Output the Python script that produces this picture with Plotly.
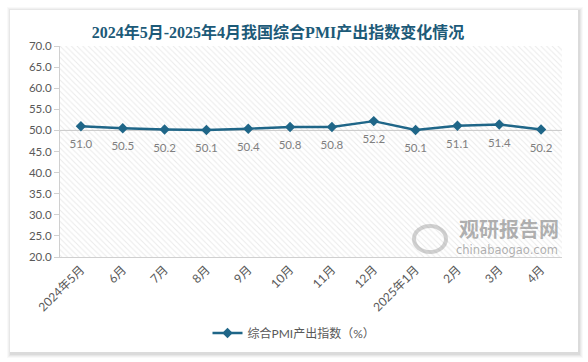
import plotly.graph_objects as go

categories = ["2024年5月", "6月", "7月", "8月", "9月", "10月", "11月", "12月",
              "2025年1月", "2月", "3月", "4月"]
pmi_values = [51.0, 50.5, 50.2, 50.1, 50.4, 50.8, 50.8, 52.2, 50.1, 51.1, 51.4, 50.2]
y_ticks = [20, 25, 30, 35, 40, 45, 50, 55, 60, 65, 70]
series_name = "综合PMI产出指数（%）"
title_text = "2024年5月-2025年4月我国综合PMI产出指数变化情况"

W, H = 588, 362
ML, MR, MT, MB = 60, 26, 46, 105
PW, PH = W - ML - MR, H - MT - MB

def px_x(px):
    return (px - ML) / PW

def px_y(py):
    return (H - MB - py) / PH

n = len(categories)
xr = [-0.5, n - 0.5]
yr = [min(y_ticks), max(y_ticks)]
xs = list(range(n))

line_color = "#1f6688"
font_ui = "Lato, 'Noto Sans CJK SC', sans-serif"

fig = go.Figure()

fig.add_trace(go.Scatter(
    x=[xr[0], xr[1], xr[1], xr[0], xr[0]],
    y=[yr[0], yr[0], yr[1], yr[1], yr[0]],
    mode="lines", line=dict(width=0), fill="toself",
    fillcolor="white",
    fillpattern=dict(shape="\\", fgcolor="#d6d6d6", bgcolor="white", size=4, solidity=0.25),
    hoverinfo="skip", showlegend=False,
))
fig.add_trace(go.Scatter(
    x=xr, y=[50, 50], mode="lines", line=dict(color="#c8c8c8", width=1),
    hoverinfo="skip", showlegend=False,
))
fig.add_trace(go.Scatter(
    x=xs, y=pmi_values, mode="lines+markers", name=series_name,
    line=dict(color=line_color, width=2.4),
    marker=dict(symbol="diamond", size=8, color=line_color),
))
# data labels, pushed a little further below the points
fig.add_trace(go.Scatter(
    x=xs, y=pmi_values, mode="markers+text", showlegend=False, hoverinfo="skip",
    marker=dict(size=20, opacity=0),
    text=[f"{v:.1f}" for v in pmi_values], textposition="bottom center",
    textfont=dict(family=font_ui, size=11.5, color="#7f7f7f"),
))

shapes = []
for i, a in enumerate([0.025, 0.03, 0.04, 0.05]):
    d = 4 - i
    shapes.append(dict(type="rect", xref="paper", yref="paper",
                       x0=px_x(10 - d + 1), x1=px_x(578 + d + 1),
                       y0=px_y(352 + d + 2), y1=px_y(10 - d + 1),
                       fillcolor=f"rgba(0,0,0,{a})", line=dict(width=0), layer="below"))
shapes.append(dict(type="rect", xref="paper", yref="paper",
                   x0=px_x(10), x1=px_x(578), y0=px_y(352), y1=px_y(10),
                   fillcolor="white", line=dict(width=0), layer="below"))

annotations = [
    dict(text="<b>观研报告网</b>", x=px_x(509), y=px_y(228), xref="paper", yref="paper",
         showarrow=False, font=dict(family="'Noto Sans CJK SC'", size=20, color="rgba(110,110,110,0.55)"),
         xanchor="center", yanchor="middle"),
    dict(text="chinabaogao.com", x=px_x(507), y=px_y(250), xref="paper", yref="paper",
         showarrow=False, font=dict(family="'DejaVu Sans'", size=11.5, color="rgba(110,110,110,0.55)"),
         xanchor="center", yanchor="middle"),
]
shapes.append(dict(type="circle", xref="paper", yref="paper",
                   x0=px_x(414), x1=px_x(446), y0=px_y(252), y1=px_y(226),
                   line=dict(color="rgba(140,140,140,0.4)", width=4), layer="above"))

fig.update_layout(
    width=W, height=H,
    margin=dict(l=ML, r=MR, t=MT, b=MB),
    paper_bgcolor="white", plot_bgcolor="white",
    title=dict(text=f"<b>{title_text}</b>", x=278 / W, xanchor="center", y=1 - 32 / H, yanchor="middle",
               font=dict(family="'Liberation Serif', 'Noto Sans CJK SC', serif", size=16, color="#1c5a78")),
    xaxis=dict(range=xr, tickmode="array", tickvals=xs, ticktext=categories, tickangle=-45,
               showgrid=False, zeroline=False, showline=True, linecolor="#d0d0d0", ticks="",
               automargin=False,
               tickfont=dict(family=font_ui, size=12, color="#595959")),
    yaxis=dict(range=yr, tickmode="array", tickvals=y_ticks, ticktext=[f"{v:.1f}" for v in y_ticks],
               showgrid=False, zeroline=False, showline=True, linecolor="#d0d0d0",
               ticks="outside", ticklen=5, tickcolor="#d0d0d0", automargin=False,
               tickfont=dict(family=font_ui, size=11.5, color="#595959")),
    legend=dict(orientation="h", x=px_x(294), xanchor="center", y=px_y(333), yanchor="middle",
                font=dict(family=font_ui, size=12, color="#595959"), bgcolor="rgba(0,0,0,0)"),
    shapes=shapes, annotations=annotations, showlegend=True,
)

fig.write_html("out.html", config={"displayModeBar": False},
               post_script="document.body.style.margin='0';")
